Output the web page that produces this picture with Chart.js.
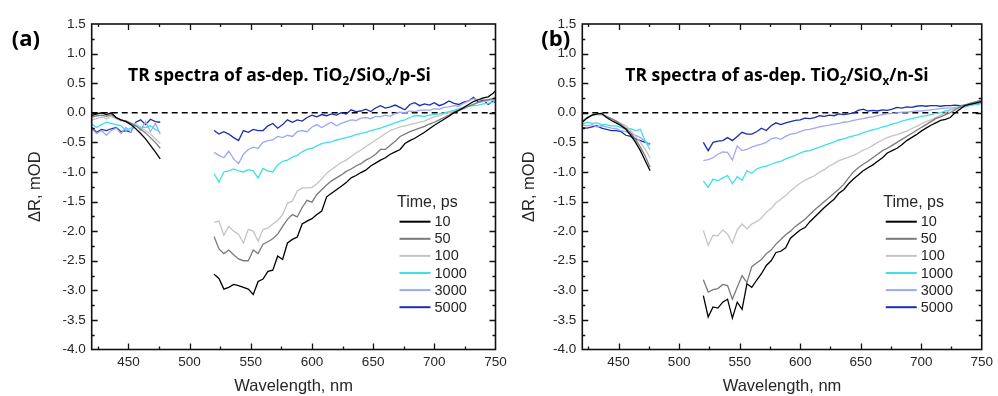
<!DOCTYPE html>
<html>
<head>
<meta charset="utf-8">
<script src="https://cdn.jsdelivr.net/npm/chart.js@4.4.0/dist/chart.umd.min.js"></script>
<style>
  html, body { margin: 0; padding: 0; background: #fff; }
  #wrap { position: relative; width: 998px; height: 396px; overflow: hidden; }
  .pane { position: absolute; top: 0; }
  #pa { left: 0; }
  #pb { left: 498px; }
</style>
</head>
<body>
<div id="wrap">
  <div class="pane" id="pa"><canvas id="chartA" width="520" height="396"></canvas></div>
  <div class="pane" id="pb"><canvas id="chartB" width="500" height="396"></canvas></div>
</div>
<script>
'use strict';

/* ---------- data ---------- */
const WL_UV = [420, 424, 428, 432, 436, 440, 444, 448, 452, 456, 460, 464, 468, 472, 476];
const WL_VIS = [
  520, 524, 528, 532, 536, 540, 544, 548, 552, 556,
  560, 564, 568, 572, 576, 580, 584, 588, 592, 596,
  600, 604, 608, 612, 616, 620, 624, 628, 632, 636,
  640, 644, 648, 652, 656, 660, 664, 668, 672, 676,
  680, 684, 688, 692, 696, 700, 704, 708, 712, 716,
  720, 724, 728, 732, 736, 740, 744, 748, 750
];
const TIMES = ['10', '50', '100', '1000', '3000', '5000'];
const COLORS = ['#000000', '#7a7a7a', '#c4c4c4', '#3ee0e6', '#9ea8f2', '#1b2db0'];

// (a) p-Si
const pUv10   = [-0.05, -0.02, 0.0, -0.03, 0.0, -0.08, -0.12, -0.15, -0.2, -0.27, -0.35, -0.44, -0.55, -0.66, -0.78];
const pUv50   = [-0.08, -0.05, -0.04, -0.06, -0.03, -0.09, -0.12, -0.14, -0.18, -0.22, -0.28, -0.34, -0.42, -0.5, -0.6];
const pUv100  = [-0.12, -0.1, -0.07, -0.1, -0.06, -0.1, -0.14, -0.13, -0.17, -0.2, -0.25, -0.3, -0.36, -0.44, -0.52];
const pUv1000 = [-0.19, -0.25, -0.2, -0.16, -0.18, -0.2, -0.22, -0.3, -0.26, -0.22, -0.24, -0.25, -0.22, -0.28, -0.33];
const pUv3000 = [-0.27, -0.35, -0.3, -0.38, -0.3, -0.26, -0.35, -0.25, -0.33, -0.18, -0.3, -0.15, -0.32, -0.18, -0.36];
const pUv5000 = [-0.25, -0.33, -0.28, -0.3, -0.27, -0.25, -0.32, -0.3, -0.33, -0.16, -0.12, -0.2, -0.11, -0.15, -0.16];

const pVis10 = [
  -2.73, -2.8, -2.98, -2.95, -2.9, -2.92, -2.95, -2.98, -3.07, -2.85,
  -2.81, -2.68, -2.66, -2.42, -2.48, -2.2, -2.14, -2.1, -1.88, -1.83,
  -1.79, -1.72, -1.66, -1.42, -1.36, -1.3, -1.24, -1.18, -1.1, -1.06,
  -1.01, -0.97, -0.9, -0.85, -0.8, -0.76, -0.7, -0.66, -0.62, -0.52,
  -0.47, -0.43, -0.38, -0.33, -0.27, -0.21, -0.16, -0.11, -0.06, 0.0,
  0.04, 0.09, 0.14, 0.19, 0.22, 0.25, 0.27, 0.33, 0.37
];
const pVis50 = [
  -2.09, -2.3, -2.38, -2.32, -2.4, -2.47, -2.5, -2.5, -2.32, -2.38,
  -2.22, -2.18, -2.13, -2.05, -1.92, -1.8, -1.72, -1.76, -1.6, -1.48,
  -1.51, -1.38, -1.3, -1.22, -1.15, -1.1, -1.05, -0.99, -0.95, -0.9,
  -0.86, -0.8, -0.76, -0.7, -0.62, -0.62, -0.55, -0.48, -0.4, -0.36,
  -0.32, -0.29, -0.26, -0.23, -0.19, -0.16, -0.12, -0.08, -0.04, 0.01,
  0.04, 0.07, 0.11, 0.14, 0.18, 0.2, 0.22, 0.24, 0.25
];
const pVis100 = [
  -1.85, -1.83, -2.07, -1.92, -2.0, -2.05, -2.2, -1.97, -2.0, -2.17,
  -1.97, -1.95, -1.88, -1.82, -1.72, -1.53, -1.49, -1.32, -1.27, -1.27,
  -1.26, -1.2, -1.12, -1.02, -0.96, -0.9, -0.84, -0.8, -0.74, -0.68,
  -0.63, -0.57, -0.52, -0.46, -0.41, -0.35, -0.3, -0.27, -0.24, -0.22,
  -0.2, -0.18, -0.16, -0.14, -0.1, -0.07, -0.05, -0.02, 0.0, 0.02,
  0.05, 0.08, 0.12, 0.15, 0.17, 0.19, 0.2, 0.22, 0.22
];
const pVis1000 = [
  -1.03, -1.17, -1.0, -0.98, -0.95, -0.98, -1.0, -0.96, -0.98, -1.1,
  -0.94, -0.98, -1.0, -0.88, -0.82, -0.8, -0.75, -0.72, -0.66, -0.62,
  -0.6, -0.56, -0.52, -0.5, -0.49, -0.46, -0.44, -0.42, -0.4, -0.37,
  -0.35, -0.33, -0.3, -0.28, -0.26, -0.23, -0.2, -0.17, -0.14, -0.12,
  -0.08, -0.05, -0.05, -0.06, -0.04, -0.03, -0.02, 0.0, 0.02, 0.04,
  0.07, 0.09, 0.11, 0.12, 0.13, 0.15, 0.16, 0.18, 0.2
];
const pVis3000 = [
  -0.67, -0.72, -0.76, -0.65, -0.78, -0.86, -0.7, -0.62, -0.58, -0.6,
  -0.5, -0.47, -0.46, -0.4, -0.42, -0.38, -0.4, -0.32, -0.3, -0.32,
  -0.24, -0.2, -0.25, -0.2, -0.16, -0.22, -0.18, -0.15, -0.12, -0.13,
  -0.09, -0.08, -0.1, -0.06, -0.07, -0.04, -0.06, -0.01, 0.01, 0.0,
  0.03, 0.02, 0.04, 0.05, 0.04, 0.07, 0.06, 0.09, 0.1, 0.12,
  0.11, 0.16, 0.2, 0.24, 0.22, 0.23, 0.21, 0.22, 0.21
];
const pVis5000 = [
  -0.3, -0.36, -0.32, -0.36, -0.42, -0.47, -0.3, -0.33, -0.28, -0.3,
  -0.3, -0.22, -0.18, -0.26, -0.2, -0.12, -0.16, -0.12, -0.14, -0.08,
  -0.04, -0.07, -0.03, -0.05, -0.02, -0.04, 0.0, -0.02, 0.05, 0.02,
  0.03, 0.06, 0.02, 0.08, 0.12, 0.08, 0.1, 0.13, 0.09, 0.05,
  0.14, 0.17, 0.12, 0.15, 0.13, 0.17, 0.12, 0.15, 0.2, 0.16,
  0.14, 0.18, 0.2, 0.26, 0.18, 0.22, 0.14, 0.2, 0.17
];

// (b) n-Si
const nUv10   = [-0.16, -0.09, -0.04, -0.02, -0.01, -0.08, -0.13, -0.17, -0.22, -0.28, -0.38, -0.5, -0.64, -0.81, -0.98];
const nUv50   = [-0.15, -0.08, -0.04, -0.02, -0.02, -0.06, -0.1, -0.14, -0.2, -0.26, -0.34, -0.45, -0.58, -0.73, -0.92];
const nUv100  = [-0.13, -0.08, -0.05, -0.03, -0.04, -0.07, -0.1, -0.14, -0.18, -0.22, -0.3, -0.4, -0.5, -0.62, -0.76];
const nUv1000 = [-0.19, -0.16, -0.18, -0.17, -0.2, -0.2, -0.22, -0.22, -0.25, -0.27, -0.27, -0.3, -0.28, -0.48, -0.62];
const nUv3000 = [-0.2, -0.22, -0.2, -0.24, -0.22, -0.24, -0.26, -0.27, -0.3, -0.32, -0.35, -0.38, -0.42, -0.48, -0.55];
const nUv5000 = [-0.25, -0.26, -0.24, -0.22, -0.26, -0.28, -0.3, -0.3, -0.32, -0.38, -0.4, -0.44, -0.47, -0.5, -0.53];

const nVis10 = [
  -3.09, -3.45, -3.28, -3.3, -3.2, -3.15, -3.47, -3.2, -3.32, -2.89,
  -2.95, -2.83, -2.72, -2.58, -2.5, -2.36, -2.34, -2.28, -2.12, -2.05,
  -1.98, -1.94, -1.84, -1.76, -1.68, -1.6, -1.53, -1.46, -1.36, -1.3,
  -1.2, -1.12, -1.05, -0.98, -0.93, -0.88, -0.82, -0.76, -0.68, -0.64,
  -0.6, -0.54, -0.47, -0.42, -0.37, -0.31, -0.26, -0.21, -0.17, -0.13,
  -0.11, -0.08, 0.0, 0.06, 0.12, 0.14, 0.16, 0.18, 0.19
];
const nVis50 = [
  -2.82, -3.03, -2.99, -2.97, -2.9, -2.92, -3.15, -2.95, -2.75, -2.87,
  -2.6, -2.54, -2.48, -2.38, -2.32, -2.22, -2.14, -2.06, -2.0, -1.92,
  -1.86, -1.8, -1.72, -1.64, -1.57, -1.5, -1.43, -1.36, -1.29, -1.21,
  -1.1, -1.0, -0.93, -0.87, -0.82, -0.76, -0.7, -0.64, -0.6, -0.55,
  -0.5, -0.45, -0.4, -0.35, -0.3, -0.25, -0.2, -0.15, -0.1, -0.07,
  -0.03, 0.0, 0.05, 0.1, 0.13, 0.16, 0.18, 0.2, 0.21
];
const nVis100 = [
  -1.99, -2.24, -2.07, -2.08, -1.98, -2.05, -2.2, -1.98, -1.88, -1.96,
  -1.88, -1.84, -1.78, -1.68, -1.62, -1.52, -1.46, -1.4, -1.32, -1.25,
  -1.19, -1.14, -1.1, -1.06, -1.0, -0.96, -0.9, -0.86, -0.81, -0.78,
  -0.75, -0.72, -0.68, -0.63, -0.6, -0.55, -0.5, -0.46, -0.42, -0.39,
  -0.37, -0.34, -0.31, -0.27, -0.23, -0.19, -0.15, -0.12, -0.08, -0.04,
  0.0, 0.04, 0.08, 0.11, 0.13, 0.15, 0.18, 0.2, 0.22
];
const nVis1000 = [
  -1.15, -1.26, -1.12, -1.15, -1.1, -1.06, -1.2, -1.08, -1.14, -0.98,
  -1.02, -0.95, -0.92, -0.9, -0.87, -0.84, -0.82, -0.78, -0.75, -0.72,
  -0.68, -0.65, -0.64, -0.61, -0.58, -0.55, -0.52, -0.49, -0.46, -0.44,
  -0.41, -0.39, -0.37, -0.34, -0.31, -0.29, -0.27, -0.24, -0.22, -0.19,
  -0.17, -0.14, -0.12, -0.1, -0.08, -0.06, -0.05, -0.03, -0.01, 0.0,
  0.03, 0.05, 0.07, 0.09, 0.1, 0.12, 0.14, 0.15, 0.16
];
const nVis3000 = [
  -0.81, -0.79, -0.76, -0.7, -0.66, -0.67, -0.8, -0.56, -0.64, -0.62,
  -0.58, -0.55, -0.53, -0.5, -0.44, -0.42, -0.45, -0.4, -0.36, -0.35,
  -0.32, -0.29, -0.28, -0.26, -0.24, -0.22, -0.21, -0.19, -0.18, -0.16,
  -0.15, -0.13, -0.11, -0.1, -0.08, -0.07, -0.05, -0.03, -0.02, -0.01,
  0.0, 0.01, 0.01, 0.02, 0.03, 0.03, 0.04, 0.05, 0.06, 0.07,
  0.08, 0.08, 0.09, 0.1, 0.11, 0.13, 0.14, 0.15, 0.16
];
const nVis5000 = [
  -0.5, -0.64, -0.5, -0.48, -0.47, -0.42, -0.47, -0.4, -0.33, -0.36,
  -0.36, -0.32, -0.26, -0.3, -0.22, -0.17, -0.2, -0.17, -0.15, -0.13,
  -0.12, -0.09, -0.1, -0.08, -0.05, -0.06, -0.04, -0.05, -0.02, -0.03,
  -0.02, 0.0, 0.04, 0.06, 0.03, 0.04, 0.03, 0.05, 0.04, 0.06,
  0.09, 0.08, 0.1, 0.09, 0.11, 0.12, 0.11, 0.12, 0.12, 0.11,
  0.12, 0.12, 0.13, 0.12, 0.13, 0.14, 0.15, 0.16, 0.17
];

const TITLE_A = [['TR spectra of as-dep. TiO', 0], ['2', 1], ['/SiO', 0], ['x', 1], ['/p-Si', 0]];
const TITLE_B = [['TR spectra of as-dep. TiO', 0], ['2', 1], ['/SiO', 0], ['x', 1], ['/n-Si', 0]];

/* ---------- helpers ---------- */
const SANS = '"Liberation Sans", Arial, sans-serif';
const BOLD = '"Open Sans", "DejaVu Sans", sans-serif';
const TXT = '#262626';

// one line per time delay, broken between the two probe windows
function joinSegments(uv, vis) {
  return WL_UV.map((x, i) => ({ x, y: uv[i] }))
    .concat([{ x: 498, y: null }])
    .concat(WL_VIS.map((x, i) => ({ x, y: vis[i] })));
}

function drawRich(ctx, parts, cx, base, size) {
  const big = `bold ${size}px ${BOLD}`;
  const small = `bold ${(size * 0.66).toFixed(1)}px ${BOLD}`;
  let w = 0;
  parts.forEach(([t, sub]) => { ctx.font = sub ? small : big; w += ctx.measureText(t).width; });
  let x = cx - w / 2;
  ctx.textAlign = 'left';
  ctx.textBaseline = 'alphabetic';
  parts.forEach(([t, sub]) => {
    ctx.font = sub ? small : big;
    ctx.fillText(t, x, base + (sub ? size * 0.24 : 0));
    x += ctx.measureText(t).width;
  });
}

/* ---------- decorations: zero line, frame with inner ticks, labels, legend ---------- */
const decoPlugin = {
  id: 'deco',
  beforeDatasetsDraw(chart) {
    const { ctx, chartArea: a, scales: { y } } = chart;
    const y0 = y.getPixelForValue(0);
    ctx.save();
    ctx.strokeStyle = '#000';
    ctx.lineWidth = 1.3;
    ctx.setLineDash([6, 4]);
    ctx.beginPath();
    ctx.moveTo(a.left, y0);
    ctx.lineTo(a.right, y0);
    ctx.stroke();
    ctx.restore();
  },
  afterDatasetsDraw(chart, args, opts) {
    const { ctx, chartArea: a, scales: { x, y } } = chart;
    ctx.save();
    ctx.strokeStyle = '#111';
    ctx.lineWidth = 1.6;
    ctx.strokeRect(a.left, a.top, a.right - a.left, a.bottom - a.top);

    ctx.lineWidth = 1.3;
    ctx.beginPath();
    for (let v = -3.75; v < 1.5; v += 0.25) {
      const py = Math.round(y.getPixelForValue(v)) + 0.5;
      const len = Math.abs(v * 2 - Math.round(v * 2)) < 1e-6 ? 6 : 3;
      ctx.moveTo(a.left, py); ctx.lineTo(a.left + len, py);
      ctx.moveTo(a.right, py); ctx.lineTo(a.right - len, py);
    }
    for (let v = 425; v < 750; v += 25) {
      const px = Math.round(x.getPixelForValue(v)) + 0.5;
      const len = v % 50 === 0 ? 6 : 3;
      ctx.moveTo(px, a.bottom); ctx.lineTo(px, a.bottom - len);
      ctx.moveTo(px, a.top); ctx.lineTo(px, a.top + len);
    }
    ctx.stroke();

    // panel label
    ctx.fillStyle = '#000';
    ctx.font = `bold 22px ${BOLD}`;
    ctx.textAlign = 'left';
    ctx.textBaseline = 'alphabetic';
    ctx.fillText(opts.label, opts.labelX, 46);

    // in-plot title
    drawRich(ctx, opts.title, opts.titleX, 81, 17.5);

    // legend
    const lx = a.right - 98.5;
    ctx.fillStyle = TXT;
    ctx.font = `16px ${SANS}`;
    ctx.fillText('Time, ps', lx, 206.5);
    ctx.font = `14.5px ${SANS}`;
    ctx.textBaseline = 'middle';
    chart.data.datasets.forEach((ds, i) => {
      const ry = 221.7 + i * 17.1;
      ctx.strokeStyle = ds.borderColor;
      ctx.lineWidth = 2;
      ctx.beginPath();
      ctx.moveTo(a.right - 96, ry);
      ctx.lineTo(a.right - 65, ry);
      ctx.stroke();
      ctx.fillText(ds.label, a.right - 61, ry + 0.5);
    });
    ctx.restore();
  }
};

function makeChart(id, series, opt) {
  const datasets = series.map((s, i) => ({
    label: TIMES[i],
    data: joinSegments(s[0], s[1]),
    borderColor: COLORS[i],
    borderWidth: 1.3,
    pointRadius: 0,
    tension: 0,
    fill: false
  }));
  return new Chart(document.getElementById(id), {
    type: 'line',
    data: { datasets },
    plugins: [decoPlugin],
    options: {
      responsive: false,
      animation: false,
      devicePixelRatio: 1,
      layout: { padding: { left: 0, right: opt.padRight, top: 24, bottom: 0 } },
      plugins: {
        legend: { display: false },
        tooltip: { enabled: false },
        deco: opt
      },
      scales: {
        x: {
          type: 'linear',
          min: 420,
          max: 750,
          afterBuildTicks: s => { s.ticks = s.ticks.filter(t => t.value % 50 === 0); },
          afterFit: s => { s.height = 46.5; },
          grid: { display: false, drawTicks: false },
          border: { display: false },
          ticks: { stepSize: 50, padding: 5, color: TXT, font: { family: SANS, size: 13.5 }, maxRotation: 0, autoSkip: false },
          title: { display: true, text: 'Wavelength, nm', color: TXT, font: { family: SANS, size: 16.5 }, padding: { top: 0, bottom: 0 } }
        },
        y: {
          min: -4,
          max: 1.5,
          afterFit: s => { s.width = opt.axisLeft; },
          grid: { display: false, drawTicks: false },
          border: { display: false },
          ticks: { stepSize: 0.5, padding: 6, color: TXT, font: { family: SANS, size: 13.5 }, callback: v => v.toFixed(1) },
          title: { display: true, text: 'ΔR, mOD', color: TXT, font: { family: SANS, size: 16.5 }, padding: { top: opt.yTitlePad, bottom: 0 } }
        }
      }
    }
  });
}

makeChart('chartA', [
  [pUv10, pVis10], [pUv50, pVis50], [pUv100, pVis100],
  [pUv1000, pVis1000], [pUv3000, pVis3000], [pUv5000, pVis5000]
], { label: '(a)', labelX: 11.7, title: TITLE_A, titleX: 279.5, axisLeft: 91.7, padRight: 24.5, yTitlePad: 26 });

makeChart('chartB', [
  [nUv10, nVis10], [nUv50, nVis50], [nUv100, nVis100],
  [nUv1000, nVis1000], [nUv3000, nVis3000], [nUv5000, nVis5000]
], { label: '(b)', labelX: 43.3, title: TITLE_B, titleX: 279, axisLeft: 84.3, padRight: 11, yTitlePad: 22 });
</script>
</body>
</html>
